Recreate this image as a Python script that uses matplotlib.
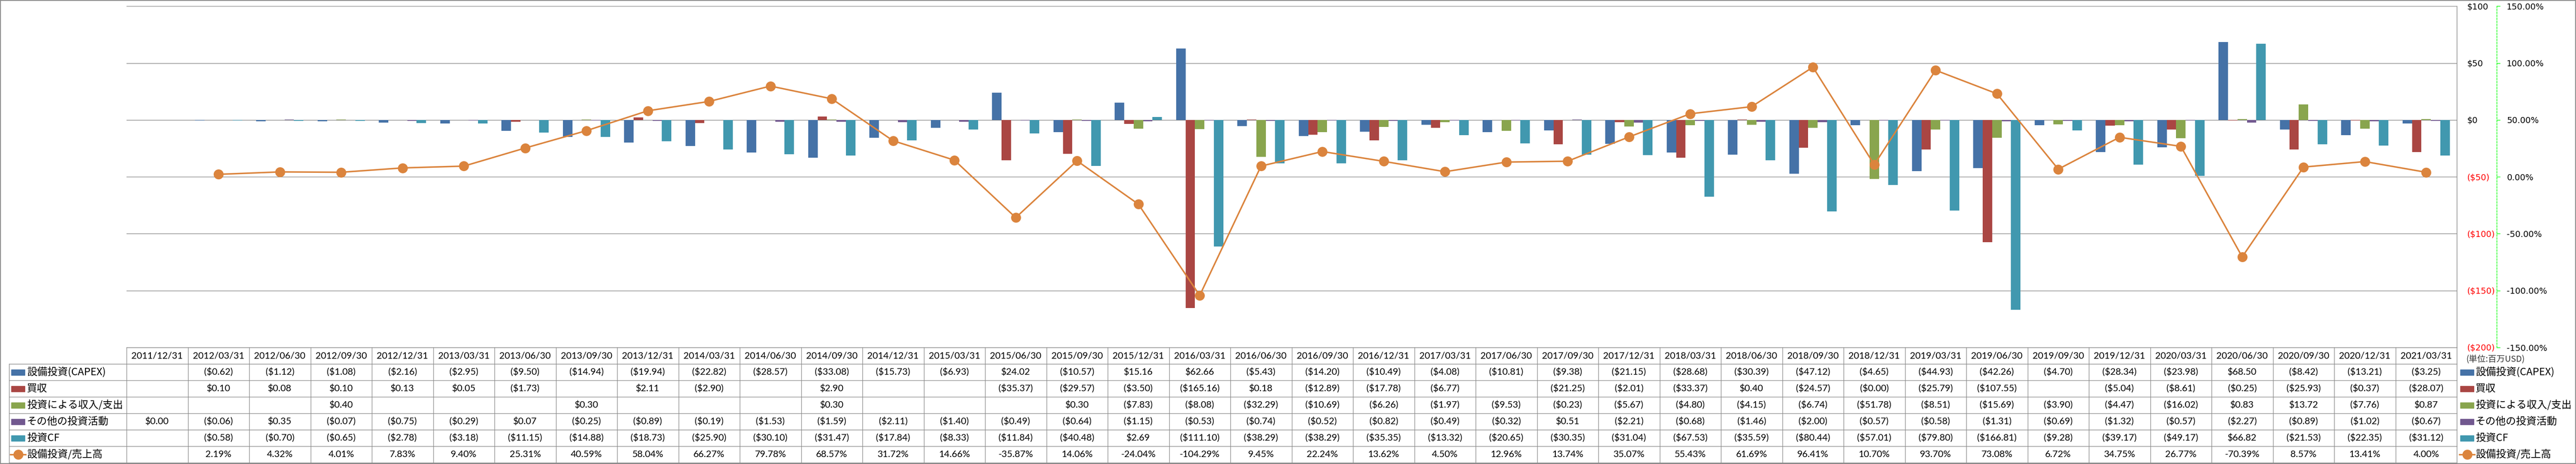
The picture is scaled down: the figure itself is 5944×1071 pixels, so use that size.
import numpy as np
import matplotlib.pyplot as plt
from matplotlib.transforms import blended_transform_factory
from matplotlib.patches import Rectangle
from matplotlib.lines import Line2D

plt.rcParams['text.parse_math'] = False

# データ(単位:百万USD)
dates = ['2011/12/31', '2012/03/31', '2012/06/30', '2012/09/30', '2012/12/31',
         '2013/03/31', '2013/06/30', '2013/09/30', '2013/12/31', '2014/03/31',
         '2014/06/30', '2014/09/30', '2014/12/31', '2015/03/31', '2015/06/30',
         '2015/09/30', '2015/12/31', '2016/03/31', '2016/06/30', '2016/09/30',
         '2016/12/31', '2017/03/31', '2017/06/30', '2017/09/30', '2017/12/31',
         '2018/03/31', '2018/06/30', '2018/09/30', '2018/12/31', '2019/03/31',
         '2019/06/30', '2019/09/30', '2019/12/31', '2020/03/31', '2020/06/30',
         '2020/09/30', '2020/12/31', '2021/03/31']

capex = [None, -0.62, -1.12, -1.08, -2.16, -2.95, -9.50, -14.94, -19.94, -22.82,
         -28.57, -33.08, -15.73, -6.93, 24.02, -10.57, 15.16, 62.66, -5.43, -14.20,
         -10.49, -4.08, -10.81, -9.38, -21.15, -28.68, -30.39, -47.12, -4.65, -44.93,
         -42.26, -4.70, -28.34, -23.98, 68.50, -8.42, -13.21, -3.25]
acquisition = [None, 0.10, 0.08, 0.10, 0.13, 0.05, -1.73, None, 2.11, -2.90,
               None, 2.90, None, None, -35.37, -29.57, -3.50, -165.16, 0.18, -12.89,
               -17.78, -6.77, None, -21.25, -2.01, -33.37, 0.40, -24.57, -0.0, -25.79,
               -107.55, None, -5.04, -8.61, -0.25, -25.93, -0.37, -28.07]
invest_income = [None, None, None, 0.40, None, None, None, 0.30, None, None,
                 None, 0.30, None, None, None, 0.30, -7.83, -8.08, -32.29, -10.69,
                 -6.26, -1.97, -9.53, -0.23, -5.67, -4.80, -4.15, -6.74, -51.78, -8.51,
                 -15.69, -3.90, -4.47, -16.02, 0.83, 13.72, -7.76, 0.87]
other_invest = [0.00, -0.06, 0.35, -0.07, -0.75, -0.29, 0.07, -0.25, -0.89, -0.19,
                -1.53, -1.59, -2.11, -1.40, -0.49, -0.64, -1.15, -0.53, -0.74, -0.52,
                -0.82, -0.49, -0.32, 0.51, -2.21, -0.68, -1.46, -2.00, -0.57, -0.58,
                -1.31, -0.69, -1.32, -0.57, -2.27, -0.89, -1.02, -0.67]
invest_cf = [None, -0.58, -0.70, -0.65, -2.78, -3.18, -11.15, -14.88, -18.73, -25.90,
             -30.10, -31.47, -17.84, -8.33, -11.84, -40.48, 2.69, -111.10, -38.29, -38.29,
             -35.35, -13.32, -20.65, -30.35, -31.04, -67.53, -35.59, -80.44, -57.01, -79.80,
             -166.81, -9.28, -39.17, -49.17, 66.82, -21.53, -22.35, -31.12]
capex_ratio = [None, 2.19, 4.32, 4.01, 7.83, 9.40, 25.31, 40.59, 58.04, 66.27,
               79.78, 68.57, 31.72, 14.66, -35.87, 14.06, -24.04, -104.29, 9.45, 22.24,
               13.62, 4.50, 12.96, 13.74, 35.07, 55.43, 61.69, 96.41, 10.70, 93.70,
               73.08, 6.72, 34.75, 26.77, -70.39, 8.57, 13.41, 4.00]

bar_names = ['設備投資(CAPEX)', '買収', '投資による収入/支出', 'その他の投資活動', '投資CF']
bar_series = [capex, acquisition, invest_income, other_invest, invest_cf]
bar_colors = ['#4572A7', '#AA4643', '#89A54E', '#71588F', '#4198AF']
line_name = '設備投資/売上高'
line_color = '#DB843D'

W, H = 5944, 1071
fig = plt.figure(figsize=(W / 100, H / 100), dpi=100)


def fx(px):
    return px / W


def fy(py):
    return 1 - py / H


plot_l, plot_r, plot_t, plot_b = 292, 5669, 14.3, 802
ax = fig.add_axes([fx(plot_l), fy(plot_b), fx(plot_r - plot_l), (plot_b - plot_t) / H])
ax2 = ax.twinx()

n = len(dates)
idx = np.arange(n)
bw = 1 / 6.5

for k, (vals, col) in enumerate(zip(bar_series, bar_colors)):
    xs = [i + (k - 2) * bw for i, v in enumerate(vals) if v is not None]
    hs = [v for v in vals if v is not None]
    ax.bar(xs, hs, width=bw, color=col, zorder=2)

ax.set_xlim(-0.5, n - 0.5)
ax.set_ylim(-200, 100)
ax.set_xticks([])
yt = list(range(-200, 101, 50))
ax.set_yticks(yt)
ax.set_yticklabels([f'(${-v})' if v < 0 else f'${v}' for v in yt])
ax.yaxis.tick_right()
ax.tick_params(axis='y', which='both', left=False, labelleft=False, right=True,
               labelright=True, length=0, pad=17, labelsize=14)
for lab, v in zip(ax.get_yticklabels(), yt):
    lab.set_color('#FF0000' if v < 0 else 'black')
ax.grid(axis='y', color='#878787', linewidth=1.0, zorder=0)
ax.set_axisbelow(True)
for s in ['left', 'top', 'bottom']:
    ax.spines[s].set_visible(False)
ax.spines['right'].set_color('#878787')
ax.spines['right'].set_linewidth(1.0)

# 第2軸(設備投資/売上高)
ax2.set_ylim(-1.5, 1.5)
ratio = np.array([np.nan if v is None else v / 100 for v in capex_ratio])
ax2.plot(idx, ratio, color=line_color, linewidth=2.5, marker='o', markersize=15.5,
         markerfacecolor=line_color, markeredgecolor=line_color, zorder=3)
yt2 = [-1.5, -1.0, -0.5, 0.0, 0.5, 1.0, 1.5]
ax2.set_yticks(yt2)
ax2.set_yticklabels([f'{v * 100:.2f}%' for v in yt2])
for lab, v in zip(ax2.get_yticklabels(), yt2):
    lab.set_color('#FF0000' if v < 0 else 'black')
for s in ['left', 'top', 'bottom']:
    ax2.spines[s].set_visible(False)
ax2.spines['right'].set_position(('outward', 66))
ax2.spines['right'].set_color('#00FF00')
ax2.spines['right'].set_linestyle((0, (3, 2)))
ax2.spines['right'].set_linewidth(1.0)
ax2.tick_params(axis='y', direction='out', length=5.5, width=1, color='#00FF00',
                pad=11.5, labelsize=14)

fig.text(fx(5690), fy(830), '(単位:百万USD)', fontsize=14, ha='left', va='center',
         family=['Noto Sans CJK JP', 'DejaVu Sans'], color='#333333')

# データテーブル
tf = blended_transform_factory(ax.transData, fig.transFigure)
grid_c = '#8c8c8c'
tfont = ['Lato', 'Noto Sans CJK JP', 'DejaVu Sans']
jfont = ['Noto Sans CJK JP', 'DejaVu Sans']
row_top = [802 + 38 * r for r in range(8)]

fig.add_artist(Line2D([fx(plot_l), fx(plot_r)], [fy(802), fy(802)], color=grid_c, lw=1.0))
for r in range(1, 8):
    fig.add_artist(Line2D([fx(21), fx(plot_r)], [fy(row_top[r]), fy(row_top[r])],
                          color=grid_c, lw=1.0))
fig.add_artist(Line2D([fx(21), fx(21)], [fy(840), fy(1068)], color=grid_c, lw=1.0))
for i in range(n + 1):
    fig.add_artist(Line2D([i - 0.5, i - 0.5], [fy(802), fy(1068)], color=grid_c, lw=1.0,
                          transform=tf))


def money(v):
    if v is None:
        return ''
    if v < 0 or np.signbit(v):
        return f'(${abs(v):.2f})'
    return f'${v:.2f}'


for i, d in enumerate(dates):
    fig.text(i, fy(821), d, transform=tf, ha='center', va='center', fontsize=15.5,
             family=tfont)
    for r, vals in enumerate(bar_series):
        fig.text(i, fy(859 + 38 * r), money(vals[i]), transform=tf, ha='center',
                 va='center', fontsize=15.5, family=tfont)
    if capex_ratio[i] is not None:
        fig.text(i, fy(859 + 38 * 5), f'{capex_ratio[i]:.2f}%', transform=tf,
                 ha='center', va='center', fontsize=15.5, family=tfont)

# 凡例(表の左と右)
for kx, tx in [(26, 62), (5677, 5712)]:
    for r, (name, col) in enumerate(zip(bar_names, bar_colors)):
        cy = 859 + 38 * r
        fig.add_artist(Rectangle((fx(kx), fy(cy + 6.5)), 31 / W, 13 / H,
                                 transform=fig.transFigure, color=col))
        fig.text(fx(tx), fy(cy), name, ha='left', va='center', fontsize=17, family=jfont)
    cy = 859 + 38 * 5
    fig.add_artist(Line2D([fx(kx - 2), fx(kx + 33)], [fy(cy), fy(cy)], color=line_color,
                          lw=2.5))
    fig.add_artist(Line2D([fx(kx + 15.5)], [fy(cy)], color=line_color, marker='o',
                          markersize=15.5, lw=0))
    fig.text(fx(tx), fy(cy), line_name, ha='left', va='center', fontsize=17, family=jfont)

# 外枠
fig.add_artist(Rectangle((fx(1), fy(1070)), (W - 2) / W, (H - 2) / H,
                         transform=fig.transFigure, fill=False, edgecolor='#8c8c8c', lw=1.5))

fig.savefig('out.png', dpi=100)
